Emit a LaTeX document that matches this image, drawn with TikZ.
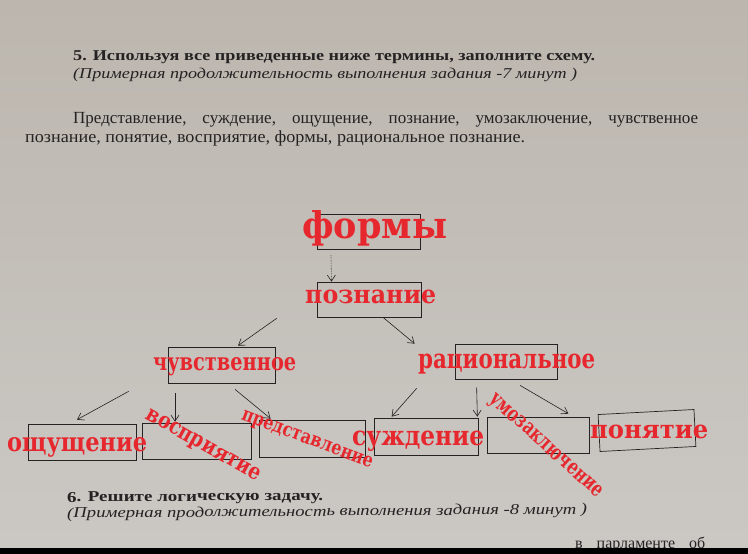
\documentclass[tikz,border=0pt]{standalone}
\usepackage{fontspec}
\setmainfont{Liberation Serif}
\newfontfamily\redfont{DejaVu Serif}
\usetikzlibrary{arrows.meta,positioning}
\definecolor{paper}{RGB}{203,200,196}
\definecolor{papertop}{RGB}{188,182,174}
\definecolor{redink}{RGB}{230,40,46}
\definecolor{ink}{RGB}{36,34,34}
\tikzset{every picture/.style={>={Straight Barb[length=6pt,width=8pt]}}}
\newcommand{\redfit}[3]{\resizebox{#1}{#2}{#3}}

\begin{document}
\begin{tikzpicture}[
    x=1pt, y=-1pt,
    box/.style={draw=ink, line width=0.7pt, minimum width=#1, minimum height=36pt, inner sep=0pt},
    conn/.style={draw=ink, line width=0.6pt},
    txt/.style={text=ink, inner sep=0pt, anchor=base west, font=\fontsize{15}{15}\selectfont},
    redlab/.style={text=redink, inner sep=0pt, font=\redfont\bfseries\fontsize{20}{20}\selectfont}
]

% ------------------------------------------------------------
% Sheet of paper
% ------------------------------------------------------------
\useasboundingbox (0,0) rectangle (748,554);
\shade[top color=papertop, bottom color=paper] (0,0) rectangle (748,548);

% Task 5 text
\node[txt] (head5) at (73,60)
  {\resizebox{522pt}{\height}{\bfseries 5. Используя все приведенные ниже термины, заполните схему.}};
\node[txt] (time5) at (73,78)
  {\resizebox{504pt}{\height}{\itshape (Примерная продолжительность выполнения задания -7 минут )}};
\node[txt, font=\fontsize{17}{17}\selectfont] (terms1) at (73,123)
  {\makebox[625pt][s]{Представление, суждение, ощущение, познание, умозаключение, чувственное}};
\node[txt, font=\fontsize{17}{17}\selectfont] (terms2) at (25,142)
  {\resizebox{500pt}{\height}{познание, понятие, восприятие, формы, рациональное познание.}};

% ------------------------------------------------------------
% Scheme: boxes
% ------------------------------------------------------------
\node[box=103pt, minimum height=35pt] (formy) at (368.5,231.5) {};
\node[box=104pt, minimum height=35pt] (pozn) at (369,299.5) {};
\node[box=107pt] (chuv) at (221.5,365) {};
\node[box=102pt, minimum height=35pt] (rac) at (506,361.5) {};

\node[box=108pt] (oshch) at (82,442) {};
\node[box=109pt] (vospr) at (196.5,441) {};
\node[box=106pt, minimum height=37pt] (pred) at (312,438.5) {};
\node[box=104pt, minimum height=37pt] (suzhd) at (426,436.5) {};
\node[box=102pt] (umoz) at (538,435) {};
\node[box=96pt, minimum height=37pt, rotate=3] (ponyat) at (647,430.5) {};

% connectors
\draw[conn, densely dotted, ->] ([xshift=-37.5pt,yshift=-6pt]formy.south) -- ([xshift=-37.5pt]pozn.north);
\draw[conn, ->] ([xshift=-40pt,yshift=-1pt]pozn.south west) -- ([xshift=16.5pt,yshift=1pt]chuv.north);
\draw[conn, ->] ([xshift=14pt]pozn.south) -- ([xshift=-40pt]rac.north west);

\draw[conn, ->] ([xshift=-39pt,yshift=-8pt]chuv.south west) -- ([xshift=-5pt,yshift=4pt]oshch.north);
\draw[conn, ->] ([xshift=-46.5pt,yshift=-10pt]chuv.south) -- ([xshift=-21.5pt,yshift=1pt]vospr.north);
\draw[conn, ->] ([xshift=13.5pt,yshift=-6pt]chuv.south) -- ([xshift=12pt,yshift=1pt]pred.north west);

\draw[conn, ->] ([xshift=-38pt,yshift=-9pt]rac.south west) -- ([xshift=18pt,yshift=1pt]suzhd.north west);
\draw[conn, ->] ([xshift=22pt,yshift=-8pt]rac.south west) -- ([xshift=-1pt,yshift=1pt]suzhd.north east);
\draw[conn, ->] ([xshift=14pt,yshift=-6pt]rac.south) -- ([xshift=-21pt,yshift=3pt]umoz.north east);

% ------------------------------------------------------------
% Red answers
% ------------------------------------------------------------
\node[redlab, anchor=base west] (tformy) at (302,238) {\redfit{145pt}{28pt}{формы}};
\node[redlab, anchor=base west] (tpozn) at (305,303) {\redfit{131pt}{13.5pt}{познание}};
\node[redlab, anchor=base west] (tchuv) at (153,370) {\redfit{143pt}{13pt}{чувственное}};
\node[redlab, anchor=base west] (trac) at (418,368) {\redfit{177pt}{14.5pt}{рациональное}};
\node[redlab, anchor=base west] (toshch) at (7,451) {\redfit{140pt}{14pt}{ощущение}};
\node[redlab, anchor=base west] (tsuzhd) at (352,445) {\redfit{132pt}{14.5pt}{суждение}};
\node[redlab, anchor=base west] (tponyat) at (590,438) {\redfit{118pt}{13.5pt}{понятие}};
\node[redlab, rotate=-29.4] (tvospr) at (202.5,446.5) {\redfit{128pt}{12pt}{восприятие}};
\node[redlab, rotate=-20.6] (tpred) at (306.7,440.5) {\redfit{139pt}{10.5pt}{представление}};
\node[redlab, rotate=-42] (tumoz) at (545,446.7) {\redfit{146pt}{11.5pt}{умозаключение}};

% ------------------------------------------------------------
% Task 6 text
% ------------------------------------------------------------
\node[txt, rotate=0.45] (head6) at (67,502)
  {\resizebox{256pt}{\height}{\bfseries 6. Решите логическую задачу.}};
\node[txt, rotate=0.45] (time6) at (67,518)
  {\resizebox{520pt}{\height}{\itshape (Примерная продолжительность выполнения задания -8 минут )}};
\node[txt, font=\fontsize{16}{16}\selectfont] (next6) at (575,548) {\makebox[130pt][s]{в парламенте об}};

% black edge of the photo
\fill[black] (0,548) rectangle (748,554);

\end{tikzpicture}
\end{document}
